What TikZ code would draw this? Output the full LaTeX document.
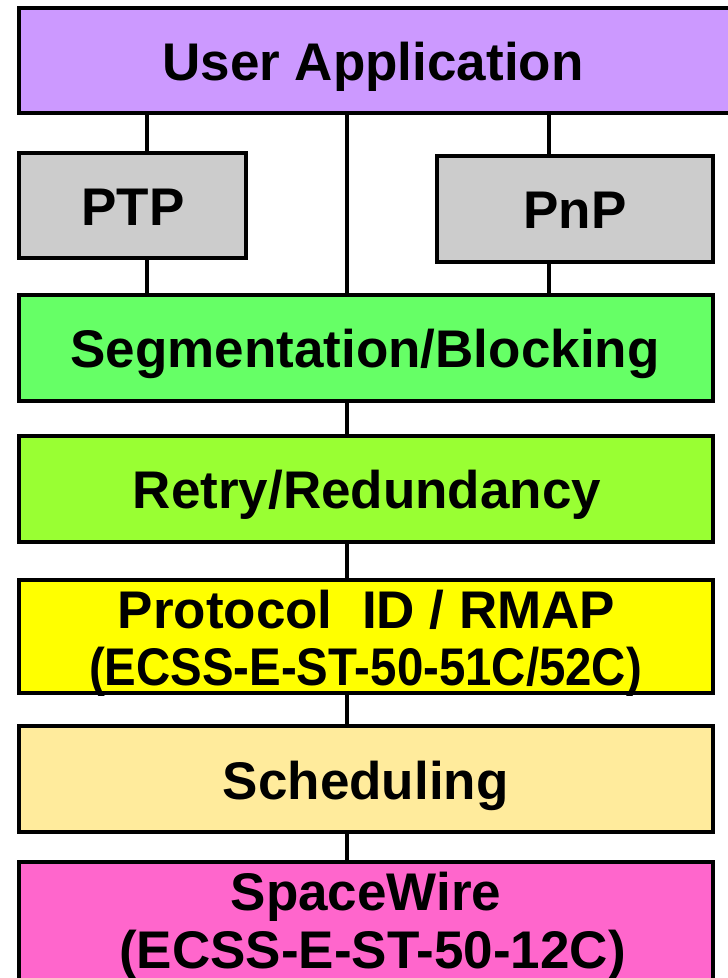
\documentclass[tikz,border=0pt]{standalone}
\usepackage{fontspec}
\usepackage{graphicx}
\setmainfont{Liberation Sans}
\definecolor{cua}{HTML}{CC99FF}
\definecolor{cgray}{HTML}{CCCCCC}
\definecolor{cseg}{HTML}{66FF66}
\definecolor{cretry}{HTML}{99FF33}
\definecolor{cproto}{HTML}{FFFF00}
\definecolor{csched}{HTML}{FFEB9C}
\definecolor{cspw}{HTML}{FF66CC}
\newcommand{\lblfont}{\fontsize{53}{57}\selectfont\bfseries}
\tikzset{
  layerbox/.style={draw=black, line width=4pt, rectangle, inner sep=0pt, outer sep=0pt},
  lbl/.style={font=\lblfont, anchor=base, inner sep=0pt, outer sep=0pt},
  link/.style={draw=black, line width=4pt},
}
\begin{document}
\begin{tikzpicture}[x=1pt, y=-1pt]
\useasboundingbox (0,0) rectangle (728,978);
\clip (0,0) rectangle (728,978);
% boxes
\node[layerbox, fill=cua, minimum width=726pt, minimum height=104.8pt] (ua) at (382,60.1) {};
\node[layerbox, fill=cgray, minimum width=227.5pt, minimum height=105.5pt] (ptp) at (132.25,205.25) {};
\node[layerbox, fill=cgray, minimum width=276.5pt, minimum height=106pt] (pnp) at (574.75,208.5) {};
\node[layerbox, fill=cseg, minimum width=694.5pt, minimum height=105.5pt] (seg) at (365.75,347.75) {};
\node[layerbox, fill=cretry, minimum width=694.5pt, minimum height=106pt] (retry) at (365.75,488.5) {};
\node[layerbox, fill=cproto, minimum width=694.5pt, minimum height=113pt] (proto) at (365.75,636.5) {};
\node[layerbox, fill=csched, minimum width=694.5pt, minimum height=106pt] (sched) at (365.75,779) {};
\node[layerbox, fill=cspw, minimum width=694.5pt, minimum height=150pt] (spw) at (365.75,936.5) {};
% connector columns
\coordinate (colL) at (146.5,0);
\coordinate (colM) at (347,0);
\coordinate (colR) at (549,0);
% connectors
\draw[link] (ua.south -| colL) -- (ptp.north -| colL);
\draw[link] (ptp.south -| colL) -- (seg.north -| colL);
\draw[link] (ua.south -| colM) -- (seg.north -| colM);
\draw[link] (ua.south -| colR) -- (pnp.north -| colR);
\draw[link] (pnp.south -| colR) -- (seg.north -| colR);
\draw[link] (seg.south -| colM) -- (retry.north -| colM);
\draw[link] (retry.south -| colM) -- (proto.north -| colM);
\draw[link] (proto.south -| colM) -- (sched.north -| colM);
\draw[link] (sched.south -| colM) -- (spw.north -| colM);
% labels
\node[lbl] (tua) at (373,80) {User Application};
\node[lbl] (tptp) at (133,225) {PTP};
\node[lbl] (tpnp) at (575,228) {PnP};
\node[lbl] (tseg) at (365,367) {Segmentation/Blocking};
\node[lbl] (tretry) at (367,508) {Retry/Redundancy};
\node[lbl] (tproto1) at (366.5,628) {Protocol\ \ ID / RMAP};
\node[lbl] (tproto2) at (365.5,685) {\scalebox{0.894}[1]{(ECSS-E-ST-50-51C/52C)}};
\node[lbl] (tsched) at (365.7,799) {Scheduling};
\node[lbl] (tspw1) at (366,910) {SpaceWire};
\node[lbl] (tspw2) at (372.5,968) {(ECSS-E-ST-50-12C)};
\end{tikzpicture}
\end{document}
